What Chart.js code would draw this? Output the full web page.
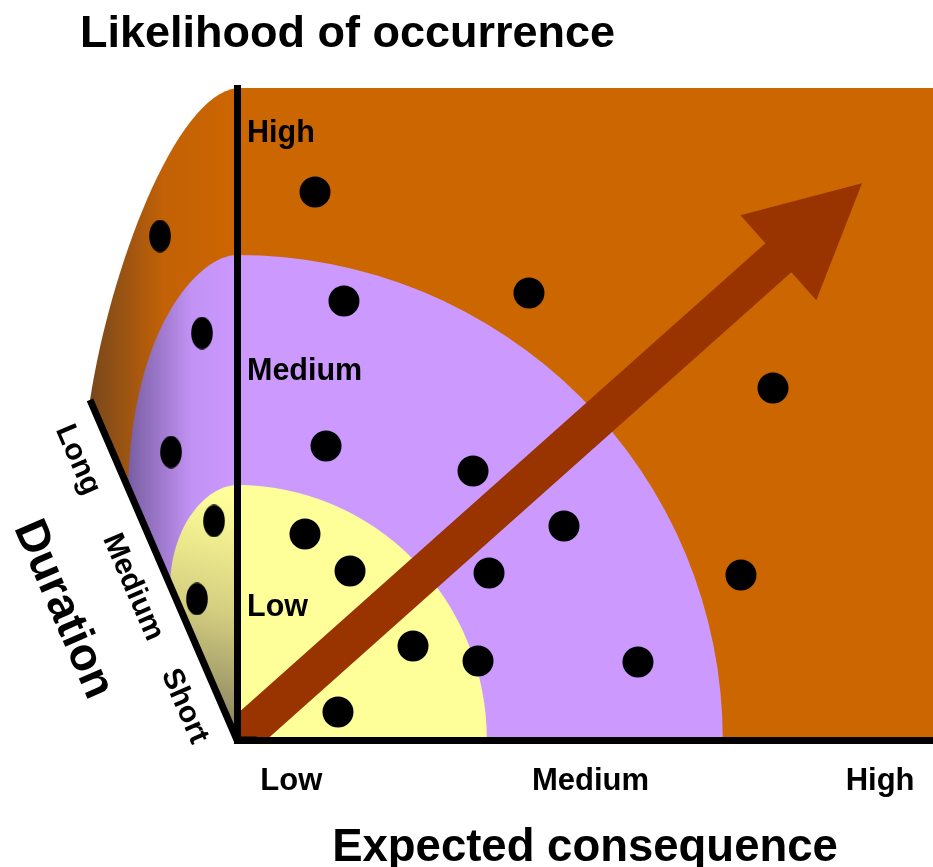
<!DOCTYPE html>
<html><head><meta charset="utf-8">
<script src="https://cdn.jsdelivr.net/npm/chart.js@4.4.1/dist/chart.umd.min.js"></script>
<style>html,body{margin:0;padding:0;background:#fff;overflow:hidden}</style>
</head><body>
<canvas id="c" width="933" height="867"></canvas>
<script>
// ---- data ----
const titleText = 'Likelihood of occurrence';
const xTitleText = 'Expected consequence';
const durationTitleText = 'Duration';
const xTickValues = [0.78, 5.08, 9.24];
const xTickLabels = ['Low', 'Medium', 'High'];
const yTickValues = [2.035, 5.655, 9.30];
const yTickLabels = ['Low', 'Medium', 'High'];
const durationTickValues = [0.14, 0.49, 0.865];
const durationTickLabels = ['Short', 'Medium', 'Long'];
// events on the front face (consequence, likelihood)
const frontX = [1.121, 1.537, 4.195, 7.701, 1.279, 3.391, 4.698, 0.977, 1.624, 3.621, 7.241, 2.529, 3.463, 5.761, 1.451];
const frontY = [8.405, 6.733, 6.856, 5.399, 4.509, 4.126, 3.282, 3.160, 2.592, 2.561, 2.531, 1.442, 1.212, 1.196, 0.429];
// events on the side (duration) face, projected position
const sideX = [-1.106, -0.503, -0.948, -0.330, -0.575];
const sideY = [7.730, 6.242, 4.417, 3.359, 2.163];
// zone boundaries (quarter ellipses on the front face)
const lowZone = [3.59, 3.911];
const mediumZone = [6.98, 7.44];
const arrowTip = [8.98, 8.54];
const durationAxisEnd = [-2.112, 5.215];

// side-face outlines in data units
const sideShapes = {
  high:   {axis: [0, 10],     c1: [-0.891, 9.893], c2: [-1.825, 7.209], diag: [-2.112, 5.215]},
  medium: {axis: [0, 7.44],   c1: [-0.532, 7.439], c2: [-1.509, 6.365], diag: [-1.566, 3.865]},
  low:    {axis: [0, 3.911],  c1: [-0.388, 3.911], c2: [-0.934, 3.374], diag: [-0.963, 2.377]}
};

const FONT = "'Liberation Sans', Arial, Helvetica, sans-serif";

// elliptical marker for side face
const sideDot = document.createElement('canvas');
sideDot.width = 22; sideDot.height = 33;
(function(){const g = sideDot.getContext('2d'); g.fillStyle = '#000'; g.beginPath(); g.ellipse(11, 16.5, 10.8, 16.3, 0, 0, Math.PI*2); g.fill();})();

const scene = {
  id: 'scene',
  beforeDraw(chart) {
    const {ctx, chartArea: a, scales: {x, y}} = chart;
    const P = (p) => [x.getPixelForValue(p[0]), y.getPixelForValue(p[1])];
    const [ox, oy] = P([0, 0]);
    ctx.save();
    ctx.fillStyle = '#cc6600';
    ctx.fillRect(ox, y.getPixelForValue(10), x.getPixelForValue(10) - ox, oy - y.getPixelForValue(10));
    const quarter = (z, col) => {
      const rx = x.getPixelForValue(z[0]) - ox, ry = oy - y.getPixelForValue(z[1]);
      ctx.beginPath(); ctx.moveTo(ox, oy); ctx.ellipse(ox, oy, rx, ry, 0, -Math.PI/2, 0); ctx.closePath();
      ctx.fillStyle = col; ctx.fill();
    };
    quarter(mediumZone, '#cc99ff');
    quarter(lowZone, '#ffff99');
    const side = (s, grad) => {
      const d = P(s.diag), c2 = P(s.c2), c1 = P(s.c1), ax = P(s.axis);
      ctx.beginPath(); ctx.moveTo(ox, oy); ctx.lineTo(d[0], d[1]);
      ctx.bezierCurveTo(c2[0], c2[1], c1[0], c1[1], ax[0], ax[1]); ctx.closePath();
      ctx.fillStyle = grad; ctx.fill();
    };
    let g = ctx.createLinearGradient(P(durationAxisEnd)[0], 0, ox, 0);
    g.addColorStop(0, 'rgb(120,72,28)'); g.addColorStop(0.5, 'rgb(194,97,6)'); g.addColorStop(1, '#cc6600');
    side(sideShapes.high, g);
    g = ctx.createLinearGradient(P(sideShapes.medium.diag)[0] - 5, 0, ox, 0);
    g.addColorStop(0, 'rgb(115,90,155)'); g.addColorStop(0.6, 'rgb(194,146,244)'); g.addColorStop(1, '#cc99ff');
    side(sideShapes.medium, g);
    g = ctx.createLinearGradient(ox + 3, oy - 240, ox - 50, oy - 20);
    g.addColorStop(0, '#ffff99'); g.addColorStop(0.5, 'rgb(212,206,128)'); g.addColorStop(1, 'rgb(136,130,96)');
    side(sideShapes.low, g);
    const [tx, ty] = P(arrowTip);
    const dx = tx - ox, dy = ty - oy, L = Math.hypot(dx, dy), ux = dx / L, uy = dy / L, nx = -uy, ny = ux;
    const hw = 19.5, HW = 57, HL = 112;
    const bx = tx - ux * HL, by = ty - uy * HL, sx = ox - ux * 40, sy = oy - uy * 40;
    ctx.beginPath(); ctx.rect(a.left, a.top, a.right - a.left, a.bottom - a.top); ctx.clip();
    ctx.beginPath();
    ctx.moveTo(sx + nx * hw, sy + ny * hw);
    ctx.lineTo(bx + nx * hw, by + ny * hw);
    ctx.lineTo(bx + nx * HW, by + ny * HW);
    ctx.lineTo(tx, ty);
    ctx.lineTo(bx - nx * HW, by - ny * HW);
    ctx.lineTo(bx - nx * hw, by - ny * hw);
    ctx.lineTo(sx - nx * hw, sy - ny * hw);
    ctx.closePath();
    ctx.fillStyle = '#993300'; ctx.fill();
    ctx.restore();
  },
  beforeDatasetsDraw(chart) {
    const {ctx, scales: {x, y}} = chart;
    const P = (p) => [x.getPixelForValue(p[0]), y.getPixelForValue(p[1])];
    const [ox, oy] = P([0, 0]);
    const [ex, ey] = P(durationAxisEnd);
    ctx.save();
    ctx.beginPath(); ctx.moveTo(ex, ey); ctx.lineTo(ox, oy); ctx.lineTo(ox + 20, oy);
    ctx.lineWidth = 7; ctx.lineJoin = 'miter'; ctx.lineCap = 'butt'; ctx.strokeStyle = '#000'; ctx.stroke();
    const ang = Math.atan2(oy - ey, ox - ex);
    const px = -Math.sin(ang), py = Math.cos(ang);
    ctx.fillStyle = '#000'; ctx.textAlign = 'center'; ctx.textBaseline = 'middle';
    const put = (d, off, text, size) => {
      const cx = ox + (ex - ox) * d + px * off, cy = oy + (ey - oy) * d + py * off;
      ctx.save(); ctx.translate(cx, cy); ctx.rotate(ang);
      ctx.font = 'bold ' + size + 'px ' + FONT; ctx.fillText(text, 0, 0); ctx.restore();
    };
    durationTickValues.forEach((d, i) => put(d, 35, durationTickLabels[i], 30));
    put(0.51, 108, durationTitleText, 46);
    ctx.restore();
  }
};

new Chart(document.getElementById('c'), {
  type: 'scatter',
  data: {
    datasets: [
      {label: 'Front', data: frontX.map((v, i) => ({x: v, y: frontY[i]})), pointRadius: 15.5, pointHoverRadius: 15.5,
       backgroundColor: '#000', borderWidth: 0, clip: false},
      {label: 'Side', data: sideX.map((v, i) => ({x: v, y: sideY[i]})), pointStyle: sideDot, pointRadius: 120, pointHoverRadius: 120,
       backgroundColor: '#000', borderWidth: 0, clip: false}
    ]
  },
  options: {
    responsive: false, animation: false, events: [], devicePixelRatio: 1,
    layout: {autoPadding: false, padding: {left: 80, right: 0, top: 0, bottom: 0}},
    plugins: {
      legend: {display: false}, tooltip: {enabled: false},
      title: {display: true, text: titleText, align: 'start', color: '#000',
        font: {family: FONT, size: 45, weight: 'bold', lineHeight: 1.2}, padding: {top: 8, bottom: 26}}
    },
    scales: {
      x: {type: 'linear', min: 0, max: 10, position: 'bottom',
        afterBuildTicks: s => { s.ticks = xTickValues.map(v => ({value: v})); },
        afterFit: s => { s.height = 127; s.paddingLeft = 0; s.paddingRight = 0; },
        grid: {display: false, drawTicks: false},
        border: {display: true, color: '#000', width: 7},
        ticks: {autoSkip: false, maxRotation: 0, padding: 23, color: '#000', callback: (v, i) => xTickLabels[i],
          font: {family: FONT, size: 31, weight: 'bold', lineHeight: 1.2}},
        title: {display: true, text: xTitleText, color: '#000', font: {family: FONT, size: 45.5, weight: 'bold', lineHeight: 1},
          padding: {top: 0, bottom: -4}}
      },
      y: {type: 'linear', min: 0, max: 10, position: 'left',
        afterBuildTicks: s => { s.ticks = yTickValues.map(v => ({value: v})); },
        afterFit: s => { s.width = 157; s.paddingTop = 0; s.paddingBottom = 0; },
        grid: {display: false, drawTicks: false},
        border: {display: true, color: '#000', width: 7},
        ticks: {autoSkip: false, mirror: true, padding: 10, color: '#000', callback: (v, i) => yTickLabels[i],
          font: {family: FONT, size: 30.5, weight: 'bold', lineHeight: 1.2}}
      }
    }
  },
  plugins: [scene]
});
</script>
</body></html>
